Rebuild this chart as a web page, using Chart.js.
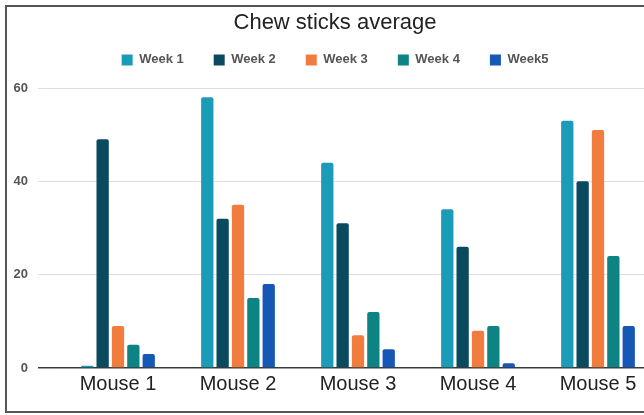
<!DOCTYPE html>
<html>
<head>
<meta charset="utf-8">
<title>Chew sticks average</title>
<script src="https://cdn.jsdelivr.net/npm/chart.js@4.4.1/dist/chart.umd.min.js"></script>
<style>
  html, body { margin: 0; padding: 0; background: #fff; overflow: hidden; }
  body { width: 644px; height: 415px; position: relative; }
  /* the original screenshot is cut off on the right, so the frame and canvas run past the window */
  .frame { position: absolute; left: 5px; top: 5px; width: 720px; height: 408px; border: 2px solid #555; box-sizing: border-box; }
  #chart { position: absolute; left: 0; top: 0; }
</style>
</head>
<body>
<div class="frame"></div>
<canvas id="chart" width="680" height="415"></canvas>
<script>
const categories = ['Mouse 1', 'Mouse 2', 'Mouse 3', 'Mouse 4', 'Mouse 5']
const weekNames  = ['Week 1', 'Week 2', 'Week 3', 'Week 4', 'Week5']
const week1 = [0.5, 58, 44, 34, 53]
const week2 = [49, 32, 31, 26, 40]
const week3 = [9, 35, 7, 8, 51]
const week4 = [5, 15, 12, 9, 24]
const week5 = [3, 18, 4, 1, 9]
const yTicks = [0, 20, 40, 60]

const COLORS     = ['#1a9bb7', '#0a4a5e', '#f27b3e', '#0d8483', '#1656b4']
const GRID_COLOR = '#e2dcdc'
const ZERO_COLOR = '#3a3a3a'
const LABEL_COLOR = '#555'

Chart.defaults.font.family = '"Liberation Sans", Arial, sans-serif'

// chart.js has no option for space under the legend, so stretch its box
const legendGap = {
  id: 'legendGap',
  beforeInit(chart) {
    const fit = chart.legend.fit
    chart.legend.fit = function () {
      fit.call(this)
      this.height = 64.6
    }
  },
}

const series = [week1, week2, week3, week4, week5]
const datasets = series.map((data, i) => ({
  label: weekNames[i],
  data,
  backgroundColor: COLORS[i],
  borderWidth: 0,
  borderRadius: 2,
}))

const ctx = document.getElementById('chart').getContext('2d')
new Chart(ctx, {
  type: 'bar',
  data: { labels: categories, datasets },
  options: {
    responsive: false,
    animation: false,
    layout: { padding: { top: 4, left: 12, right: 22, bottom: 0 } },
    datasets: { bar: { categoryPercentage: 0.64, barPercentage: 0.8 } },
    plugins: {
      title: {
        display: true,
        text: 'Chew sticks average',
        color: '#222',
        font: { size: 22, weight: 'normal' },
        padding: { top: 6, bottom: -13 },
      },
      legend: {
        labels: {
          boxWidth: 11,
          boxHeight: 11,
          padding: 30,
          color: LABEL_COLOR,
          font: { size: 13, weight: 'bold' },
        },
      },
      tooltip: { enabled: false },
    },
    scales: {
      x: {
        grid: { display: false, drawTicks: false },
        border: { display: false },
        ticks: { color: '#222', font: { size: 20 }, padding: 4 },
        afterFit: s => { s.height = 47 },
      },
      y: {
        min: 0,
        max: 60,
        afterBuildTicks: s => { s.ticks = yTicks.map(v => ({ value: v })) },
        grid: {
          color: c => (c.tick && c.tick.value === 0 ? ZERO_COLOR : GRID_COLOR),
          lineWidth: c => (c.tick && c.tick.value === 0 ? 1.5 : 1),
          tickLength: 20,
        },
        border: { display: false },
        ticks: { padding: 10, color: LABEL_COLOR, font: { size: 13, weight: 'bold' } },
        afterFit: s => { s.width = 46 },
      },
    },
  },
  plugins: [legendGap],
})
</script>
</body>
</html>
